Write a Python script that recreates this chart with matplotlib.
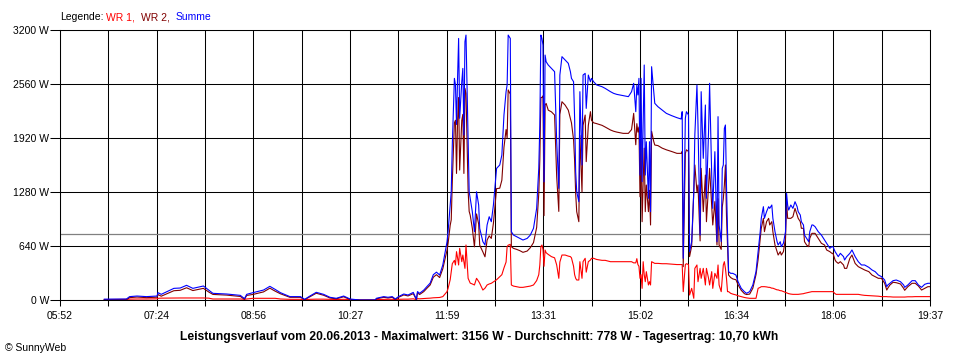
import matplotlib.pyplot as plt
import numpy as np

plt.rcParams['font.family'] = ['Liberation Sans', 'DejaVu Sans']

# Messwerte (Uhrzeit, Leistung in W)
zeit = ['06:34', '06:55', '06:58', '07:05', '07:14', '07:24', '07:25', '07:28', '07:40', '07:46',
        '07:52', '07:58', '08:08', '08:13', '08:17', '08:30', '08:43', '08:47', '08:49',
        '08:55', '09:05', '09:11', '09:16', '09:21', '09:30', '09:40', '09:44', '09:49', '09:55',
        '10:02', '10:08', '10:14', '10:21', '10:27',
        '10:36', '10:51', '10:52', '10:59', '11:03', '11:07', '11:10', '11:13', '11:18', '11:22',
        '11:27', '11:30', '11:31', '11:33', '11:37', '11:40', '11:43', '11:46', '11:49', '11:52', '11:55',
        '11:59', '12:00', '12:02', '12:03', '12:04', '12:06', '12:07', '12:08', '12:09', '12:10',
        '12:11', '12:13', '12:14', '12:15', '12:16', '12:17', '12:19', '12:20', '12:21', '12:23',
        '12:25', '12:27', '12:29', '12:30',
        '12:33', '12:35', '12:37', '12:39', '12:41', '12:43', '12:46', '12:49', '12:51', '12:53',
        '12:55', '12:56', '12:57', '12:59', '13:00',
        '13:02', '13:05', '13:08', '13:11', '13:15', '13:18', '13:21', '13:24', '13:26', '13:27',
        '13:28', '13:29', '13:30', '13:31', '13:32', '13:33', '13:35', '13:38', '13:41', '13:43',
        '13:45', '13:46',
        '13:48', '13:51', '13:54', '13:56', '13:57', '13:59', '14:00', '14:01', '14:02', '14:04',
        '14:05', '14:07', '14:08', '14:10', '14:11', '14:13', '14:15', '14:16', '14:18', '14:21',
        '14:26', '14:29', '14:34', '14:37',
        '14:40', '14:46', '14:51', '14:54', '14:56', '14:58', '14:59', '15:00', '15:01', '15:02',
        '15:03', '15:04', '15:05', '15:06', '15:07', '15:08', '15:10', '15:11', '15:12', '15:13',
        '15:15', '15:16',
        '15:19', '15:23', '15:27', '15:32', '15:37', '15:41', '15:42', '15:43', '15:45', '15:46',
        '15:48', '15:49', '15:51', '15:53', '15:54', '15:56', '15:57', '15:59', '16:00', '16:02',
        '16:04', '16:05', '16:07', '16:08', '16:10', '16:11', '16:13', '16:15',
        '16:16', '16:17', '16:19', '16:20', '16:21', '16:22', '16:23', '16:24', '16:25', '16:26',
        '16:28', '16:30', '16:33', '16:35', '16:38', '16:41', '16:43', '16:46', '16:49', '16:52',
        '16:54', '16:56', '16:57', '16:59', '17:00',
        '17:02', '17:04', '17:05', '17:07', '17:08', '17:10', '17:12', '17:13', '17:15', '17:16',
        '17:18', '17:20', '17:21', '17:22', '17:23', '17:25', '17:27', '17:29', '17:31', '17:32',
        '17:34', '17:35', '17:37', '17:38', '17:40', '17:42', '17:43', '17:45', '17:46', '17:48',
        '17:51', '17:54', '17:57',
        '17:59', '18:02', '18:04', '18:05', '18:07', '18:08', '18:10', '18:12', '18:15', '18:16',
        '18:18', '18:21', '18:23', '18:26', '18:29', '18:32', '18:35', '18:39', '18:42', '18:45',
        '18:48', '18:51', '18:54', '18:56', '18:57', '18:59', '19:02', '19:05', '19:09', '19:12',
        '19:13', '19:16', '19:20', '19:23', '19:26', '19:29', '19:32', '19:35', '19:37']

summe = [10, 12, 40, 47, 40, 47, 87, 67, 138, 142,
         174, 138, 166, 118, 79, 71, 55, 16, 67,
         87, 118, 162, 126, 87, 40, 40, 8, 47, 91,
         67, 32, 20, 47, 12,
         0, 0, 20, 40, 32, 40, 12, 40, 71, 59,
         90, 8, 100, 79, 118, 160, 200, 300, 330, 296, 415,
         690, 810, 1125, 1283, 1836, 2627, 2550, 2080, 2627, 3100,
         2153, 2587, 2745, 1955, 3061, 3140, 1876, 1283, 1205, 1046,
         810, 1283, 1126, 849,
         691, 652, 889, 987, 928, 1126, 1560, 1600, 1718, 2192,
         2469, 2548, 3140, 3100, 810,
         770, 750, 730, 711, 730, 770, 849, 1086, 1560, 2074,
         3140, 3100, 3022, 1400, 2903, 2824, 2785, 2745, 2706, 1876,
         1323, 2666,
         2884, 2844, 2805, 2706, 2627, 2587, 2153, 1520, 1283, 1165,
         2469, 1600, 2666, 2686, 2271, 2666, 2587, 2627, 2587, 2548,
         2528, 2508, 2469, 2449,
         2437, 2422, 2410, 2469, 2568, 2232, 2548, 2430, 2627, 1481,
         2627, 1402, 2074, 2785, 1481, 1876, 1205, 1876, 1047, 2765,
         2469, 2331,
         2291, 2252, 2212, 2185, 2161, 2145, 2232, 494, 2153, 2232,
         2193, 573, 691, 1284, 1955, 2548, 2074, 770, 2469, 1679,
         2311, 1205, 1995, 2568, 1481, 1086, 1758, 691,
         2173, 889, 691, 1560, 1600, 2034, 2074, 1363, 810, 336,
         316, 316, 296, 217, 138, 99, 79, 99, 178, 336,
         573, 810, 968, 1106, 968,
         1047, 1106, 1086, 1126, 968, 810, 691, 652, 691, 632,
         672, 810, 1264, 1126, 1066, 1126, 1086, 1165, 1106, 1047,
         1007, 928, 889, 770, 731, 691, 810, 889, 889, 869,
         810, 770, 711,
         672, 613, 632, 632, 573, 553, 514, 553, 514, 474,
         514, 553, 593, 514, 454, 415, 415, 387, 356, 336,
         296, 277, 237, 158, 178, 198, 229, 237, 217, 178,
         150, 178, 229, 229, 178, 150, 186, 198, 198]

wr1 = [5, 8, 10, 12, 12, 14, 20, 22, 24, 24,
       24, 24, 24, 22, 12, 12, 12, 8, 12,
       20, 20, 20, 20, 12, 8, 8, 4, 8, 10,
       10, 8, 6, 8, 6,
       0, 0, 6, 8, 8, 8, 6, 8, 10, 10,
       14, 4, 16, 14, 18, 20, 22, 26, 28, 30, 40,
       99, 138, 240, 335, 430, 470, 415, 573, 500, 415,
       612, 454, 533, 450, 375, 652, 257, 230, 200, 190,
       178, 257, 220, 198,
       118, 140, 178, 190, 198, 215, 240, 275, 300, 380,
       450, 632, 650, 660, 178,
       165, 158, 150, 150, 158, 165, 178, 230, 300, 415,
       632, 652, 600, 400, 592, 560, 540, 514, 500, 415,
       257, 450,
       533, 533, 520, 514, 500, 400, 300, 257, 237, 237,
       454, 257, 454, 494, 330, 454, 474, 494, 494, 480,
       470, 470, 454, 454,
       454, 454, 454, 454, 440, 440, 490, 420, 400, 257,
       300, 138, 454, 300, 217, 336, 178, 217, 178, 454,
       440, 434,
       434, 430, 430, 425, 420, 420, 420, 99, 420, 430,
       420, 59, 138, 20, 375, 415, 217, 375, 257, 375,
       178, 375, 257, 178, 336, 138, 316, 257,
       415, 178, 99, 257, 415, 454, 375, 257, 99, 99,
       79, 70, 60, 50, 40, 30, 25, 20, 20, 20,
       138, 150, 158, 158, 158,
       155, 150, 150, 140, 140, 130, 120, 120, 110, 110,
       100, 90, 85, 80, 75, 70, 67, 67, 67, 67,
       70, 72, 75, 79, 85, 90, 95, 99, 99, 99,
       99, 99, 99,
       99, 99, 99, 99, 75, 67, 67, 67, 67, 67,
       67, 67, 67, 67, 67, 60, 55, 52, 50, 48,
       45, 40, 40, 40, 38, 38, 35, 35, 35, 35,
       35, 38, 38, 40, 40, 40, 40, 40, 40]

wr2 = [5, 4, 28, 35, 28, 33, 64, 45, 110, 115,
       145, 112, 138, 95, 66, 58, 42, 8, 54,
       66, 96, 140, 105, 74, 32, 32, 4, 38, 80,
       56, 24, 14, 38, 6,
       0, 0, 14, 32, 24, 32, 6, 32, 60, 48,
       75, 4, 84, 65, 100, 140, 178, 270, 300, 266, 370,
       590, 670, 885, 950, 1400, 2100, 2130, 1500, 2120, 2400,
       1540, 2130, 2200, 1500, 2509, 2450, 1300, 1050, 1005, 850,
       630, 1020, 900, 650,
       570, 512, 710, 760, 730, 910, 1320, 1325, 1420, 1810,
       2020, 1920, 2490, 2440, 632,
       612, 600, 585, 565, 580, 620, 680, 860, 1260, 1660,
       2400, 2400, 2420, 1000, 2310, 2330, 2250, 2230, 2192, 1461,
       1050, 2200,
       2350, 2310, 2250, 2150, 2100, 1900, 1650, 1260, 1046, 928,
       1950, 1280, 2070, 2192, 1640, 2070, 2232, 2130, 2100, 2090,
       2070, 2050, 2015, 2000,
       1990, 1975, 1975, 2020, 2212, 1840, 2090, 1990, 2050, 1224,
       1900, 928, 1403, 1800, 1047, 1363, 1047, 1300, 889, 2000,
       1880, 1837,
       1830, 1800, 1780, 1760, 1738, 1738, 1760, 395, 1738, 1780,
       1760, 514, 640, 1260, 1600, 1280, 1363, 700, 1560, 1047,
       1481, 928, 1363, 1560, 1126, 889, 1166, 652,
       1200, 650, 600, 1100, 1200, 1363, 1600, 1000, 660, 296,
       266, 250, 240, 180, 115, 75, 65, 70, 140, 300,
       480, 730, 850, 968, 810,
       928, 968, 889, 928, 810, 652, 573, 533, 573, 533,
       573, 731, 1166, 968, 968, 968, 987, 1086, 1007, 968,
       928, 850, 850, 691, 652, 632, 731, 790, 790, 790,
       731, 672, 652,
       593, 573, 553, 553, 474, 454, 434, 454, 415, 375,
       375, 494, 533, 434, 395, 375, 356, 336, 296, 277,
       257, 257, 198, 118, 140, 178, 210, 205, 190, 138,
       115, 158, 198, 198, 166, 118, 138, 158, 158]

y_ticks = [0, 640, 1280, 1920, 2560, 3200]
x_tick_labels = ['05:52', '07:24', '08:56', '10:27', '11:59', '13:31',
                 '15:02', '16:34', '18:06', '19:37']
durchschnitt = 778
start, ende = '05:52', '19:37'


def minuten(s):
    h, m = s.split(':')
    return int(h) * 60 + int(m)


t = [minuten(z) for z in zeit]
x0, x1 = minuten(start), minuten(ende)

fig = plt.figure(figsize=(9.6, 3.6), dpi=100)
ax = fig.add_axes([60 / 960, 60 / 360, 870 / 960, 270 / 360])

# Durchschnittslinie
ax.axhline(durchschnitt, color='#808080', lw=0.9, zorder=1.5)

ax.plot(t, wr1, color='#ff0000', lw=0.8, zorder=2)
ax.plot(t, wr2, color='#800000', lw=0.8, zorder=2.1)
ax.plot(t, summe, color='#0000ff', lw=0.8, zorder=2.2)

ax.set_xlim(x0, x1)
ax.set_ylim(0, 3200)

gitter = np.linspace(x0, x1, 19)
ax.set_xticks(gitter)
labels = []
for i in range(len(gitter)):
    labels.append(x_tick_labels[i // 2] if i % 2 == 0 else '')
ax.set_xticklabels(labels)
ax.set_yticks(y_ticks)
ax.set_yticklabels([f'{v} W' for v in y_ticks])

ax.grid(True, color='black', lw=0.75)
ax.set_axisbelow(True)
ax.tick_params(axis='x', length=4, width=0.75, pad=4, labelsize=7.5, color='black')
ax.tick_params(axis='y', length=7, width=0.75, pad=1, labelsize=7.5, color='black')
for sp in ax.spines.values():
    sp.set_linewidth(0.75)
    sp.set_color('black')

# Legende oben
y_leg = 1 - 17 / 360
fig.text(60 / 960, y_leg, 'Legende:', fontsize=7.5, va='center', color='black')
fig.text(106 / 960, y_leg, 'WR 1,', fontsize=7.5, va='center', color='#ff0000')
fig.text(141 / 960, y_leg, 'WR 2,', fontsize=7.5, va='center', color='#800000')
fig.text(176 / 960, y_leg, 'Summe', fontsize=7.5, va='center', color='#0000ff')

fig.text(479 / 960, 1 - 337 / 360,
         'Leistungsverlauf vom 20.06.2013 - Maximalwert: 3156 W - Durchschnitt: 778 W - Tagesertrag: 10,70 kWh',
         fontsize=8.7, fontweight='bold', ha='center', va='center')
fig.text(5 / 960, 1 - 348 / 360, '© SunnyWeb', fontsize=7.5, va='center')

fig.savefig('out.png', dpi=100)
